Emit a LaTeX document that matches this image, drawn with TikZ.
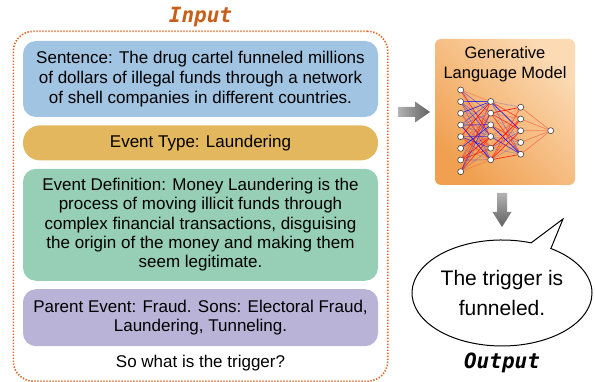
\documentclass[tikz,border=0pt]{standalone}
\usepackage{fontspec}
\setmainfont{Liberation Sans}
\newfontfamily\codefont{DejaVu Sans Mono}
\usetikzlibrary{positioning,fit,shapes.callouts}

\definecolor{sentblue}{RGB}{161,196,226}
\definecolor{typegold}{RGB}{226,183,94}
\definecolor{defgreen}{RGB}{150,207,181}
\definecolor{parpurple}{RGB}{185,179,215}
\definecolor{dotorange}{RGB}{217,105,40}
\definecolor{titleorange}{RGB}{200,95,25}
\definecolor{mdark}{RGB}{240,160,80}
\definecolor{mlight}{RGB}{251,218,180}

\tikzset{
  box/.style={rounded corners=13pt, minimum width=355pt, align=center,
    inner sep=0pt, font=\fontsize{17}{20}\selectfont},
  neuron/.style={circle, draw=black!75, fill=white, line width=0.6pt,
    inner sep=0pt, minimum size=6pt},
  tag/.style={font=\codefont\bfseries\itshape\fontsize{21}{21}\selectfont,
    inner sep=0pt},
}

\begin{document}
\begin{tikzpicture}[x=1pt,y=-1pt]
  \useasboundingbox (0,0) rectangle (595,382);

  % input side
  \node[box, fill=sentblue, minimum height=76pt] (sent) at (200.5,79)
    {Sentence: The drug cartel funneled millions\\of dollars of illegal funds through a network\\of shell companies in different countries.};
  \node[box, fill=typegold, minimum height=35pt, rounded corners=17pt, below=8pt of sent] (etype)
    {Event Type: Laundering};
  \node[box, fill=defgreen, minimum height=112pt, font=\fontsize{17}{19.3}\selectfont, below=8pt of etype] (edef)
    {Event Definition: Money Laundering is the\\process of moving illicit funds through\\complex financial transactions, disguising\\the origin of the money and making them\\seem legitimate.};
  \node[box, fill=parpurple, minimum height=57pt, font=\fontsize{17}{19}\selectfont, below=8pt of edef] (parent)
    {Parent Event: Fraud. Sons: Electoral Fraud,\\Laundering, Tunneling.};
  \node[inner sep=0pt, font=\fontsize{17}{20}\selectfont, below=9pt of parent] (ask)
    {So what is the trigger?};
  \node[draw=dotorange, line width=1.6pt, dash pattern=on 1.4pt off 1.6pt,
    rounded corners=20pt, fit=(sent)(parent)(ask), inner xsep=9.5pt, inner ysep=9.5pt] (inbox) {};
  \node[tag, text=titleorange, above=3.5pt of inbox] (intitle) {Input};

  % arrow to the model
  \coordinate (arrA) at (398,112);
  \shade[left color=black!30, right color=black!62] (arrA) ++(0,-5) -- ++(17,0) -- ++(0,-5.5)
    -- ++(15,10.5) -- ++(-15,10.5) -- ++(0,-5.5) -- ++(-17,0) -- cycle;

  % model
  \node[rounded corners=6pt, minimum width=140pt, minimum height=146pt,
    top color=mlight, bottom color=mdark, shading angle=-45] (model) at (505,112) {};
  \node[inner sep=0pt, align=center, font=\fontsize{16.5}{20}\selectfont,
    below=8pt of model.north] (mname) {Generative\\Language Model};

  \foreach \k in {1,...,8}
    \node[neuron] (in\k) at (460.7,78.3+11.67*\k) {};
  \foreach \k in {1,...,6}
    \node[neuron] (hid\k) at (490.7,89.8+11.67*\k) {};
  \foreach \k in {1,...,5}
    \node[neuron] (mid\k) at (520.7,95.5+11.75*\k) {};
  \node[neuron] (out) at (550.7,130.7) {};

  \pgfmathsetseed{12}
  \foreach \i in {1,...,8}
    \foreach \j in {1,...,6} {
      \pgfmathsetmacro\op{0.12+0.85*rnd^2}
      \pgfmathtruncatemacro\pick{rnd<0.6}
      \ifnum\pick=1 \def\ec{red}\else\def\ec{blue}\fi
      \draw[\ec, opacity=\op, line width=0.7pt] (in\i) -- (hid\j);
    }
  \foreach \i in {1,...,6}
    \foreach \j in {1,...,5} {
      \pgfmathsetmacro\op{0.12+0.85*rnd^2}
      \pgfmathtruncatemacro\pick{rnd<0.6}
      \ifnum\pick=1 \def\ec{red}\else\def\ec{blue}\fi
      \draw[\ec, opacity=\op, line width=0.7pt] (hid\i) -- (mid\j);
    }
  \foreach \i in {1,...,5}
    \draw[red, opacity=0.35, line width=0.7pt] (mid\i) -- (out);

  % arrow to the answer
  \coordinate (arrB) at (502,193);
  \shade[top color=black!30, bottom color=black!62] (arrB) ++(-5,0) -- ++(0,19) -- ++(-4.5,0)
    -- ++(9.5,15) -- ++(9.5,-15) -- ++(-4.5,0) -- ++(0,-19) -- cycle;

  % answer
  \node[ellipse callout, draw, line width=1pt, fill=white, minimum width=180pt,
    minimum height=106pt, inner sep=0pt, callout absolute pointer={(563,219)},
    callout pointer arc=14, align=center, font=\fontsize{21}{30}\selectfont] (reply) at (502,293)
    {The trigger is\\funneled.};
  \node[tag, below=6pt of reply] (outtitle) {Output};
\end{tikzpicture}
\end{document}
